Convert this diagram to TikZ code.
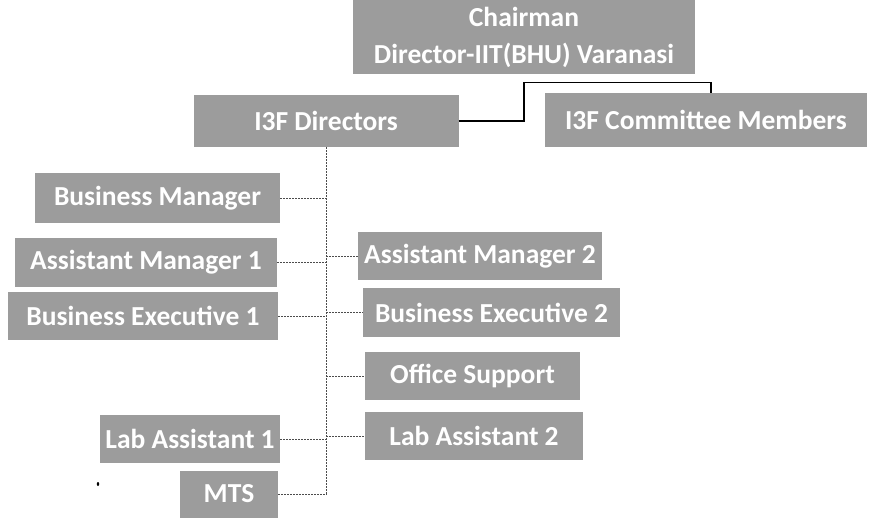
\documentclass[tikz,border=0pt]{standalone}
\usepackage{fontspec}
\setmainfont{Carlito}
\definecolor{boxgray}{HTML}{9C9C9C}
\tikzset{
  orgbox/.style={draw=none, fill=boxgray, text=white, inner sep=0pt, align=center,
    font=\bfseries\fontsize{27.5}{37}\selectfont},
  headlink/.style={draw=black, line width=1.4pt},
  branch/.style={draw=black!70, line width=0.8pt, dash pattern=on 2pt off 1pt}
}
\begin{document}
\begin{tikzpicture}[x=1pt,y=-1pt]
\useasboundingbox (0,0) rectangle (869,520);
% top level
\node[orgbox, minimum width=342pt, minimum height=74pt] (chair) at (524,37) {Chairman\\Director-IIT(BHU) Varanasi};
\node[orgbox, minimum width=265pt, minimum height=52pt] (dir) at (326,121) {I3F Directors};
\node[orgbox, minimum width=322pt, minimum height=54pt] (com) at (706,120) {I3F Committee Members};
% left column
\node[orgbox, minimum width=245pt, minimum height=50pt] (bm) at (157.5,198) {Business Manager};
\node[orgbox, minimum width=262pt, minimum height=49pt] (am1) at (146,262) {Assistant Manager 1};
\node[orgbox, minimum width=270pt, minimum height=48pt] (be1) at (143,316) {Business Executive 1};
\node[orgbox, minimum width=180pt, minimum height=48pt] (la1) at (190,439) {Lab Assistant 1};
\node[orgbox, minimum width=98pt, minimum height=47pt] (mts) at (229,494) {MTS};
% right column
\node[orgbox, minimum width=244pt, minimum height=48pt] (am2) at (480,256) {Assistant Manager 2};
\node[orgbox, minimum width=257pt, minimum height=49pt] (be2) at (491.5,312.5) {Business Executive 2};
\node[orgbox, minimum width=215pt, minimum height=48pt] (os) at (472.5,376) {Office Support};
\node[orgbox, minimum width=218pt, minimum height=48pt] (la2) at (474,436) {Lab Assistant 2};
% head connector
\coordinate (j) at ([yshift=-8pt]chair.south);
\coordinate (k) at ([xshift=5pt]com.north);
\draw[headlink] (dir.east) -| (j) -| (k);
% trunk
\coordinate (tb) at (dir.south |- mts.east);
\draw[branch] (dir.south) -- (tb) -- (mts.east);
\draw[branch] (bm.east) -- (bm.east -| dir.south);
\draw[branch] (am1.east) -- (am1.east -| dir.south);
\draw[branch] (be1.east) -- (be1.east -| dir.south);
\draw[branch] (la1.east) -- (la1.east -| dir.south);
\draw[branch] (am2.west -| dir.south) -- (am2.west);
\draw[branch] (be2.west -| dir.south) -- (be2.west);
\draw[branch] (os.west -| dir.south) -- (os.west);
\draw[branch] (la2.west -| dir.south) -- (la2.west);
% stray mark
\fill[black] (98,484) ellipse (1.2pt and 2pt);
\end{tikzpicture}
\end{document}
